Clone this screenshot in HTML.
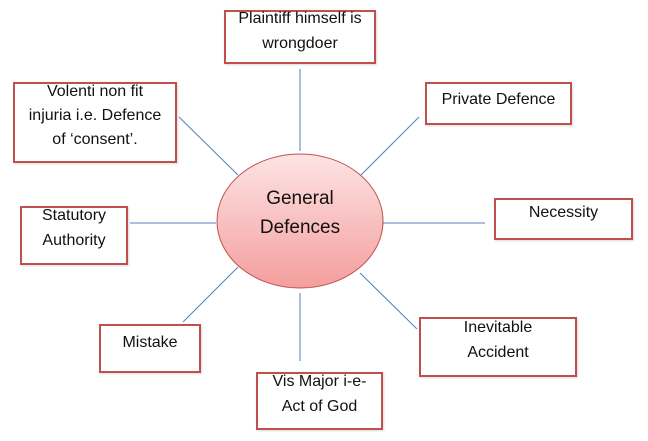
<!DOCTYPE html>
<html><head><meta charset="utf-8"><style>
body{margin:0;background:#fff;}
.b{position:absolute;border:2px solid #c0504d;box-sizing:border-box;background:#fff;box-shadow:1px 1px 2px rgba(0,0,0,.15);}
.t{position:absolute;font-family:"Liberation Sans",sans-serif;font-size:16px;color:#111;text-align:center;white-space:nowrap;line-height:25px;}
</style></head><body>
<div style="position:relative;width:648px;height:441px;overflow:hidden">
<svg width="648" height="441" style="position:absolute;left:0;top:0">
<defs><linearGradient id="g" x1="0" y1="0" x2="0" y2="1"><stop offset="0" stop-color="#fde4e4"/><stop offset="1" stop-color="#f49e9e"/></linearGradient></defs>
<g stroke="#4f81bd" stroke-width="1">
<line x1="300" y1="69" x2="300" y2="151"/>
<line x1="300" y1="293" x2="300" y2="361"/>
<line x1="130" y1="223" x2="216" y2="223"/>
<line x1="383" y1="223" x2="485" y2="223"/>
<line x1="179" y1="117" x2="238" y2="175"/>
<line x1="419" y1="117" x2="361" y2="175"/>
<line x1="183" y1="322" x2="238" y2="267"/>
<line x1="360" y1="273" x2="417" y2="329"/>
</g>
<ellipse cx="300" cy="221" rx="83" ry="67" fill="url(#g)" stroke="#c0504d" stroke-width="1"/>
</svg>
<div class="t" style="left:217px;top:184px;width:166px;font-size:19px;line-height:29px">General<br>Defences</div>
<div class="b" style="left:224px;top:10px;width:152px;height:54px"></div>
<div class="t" style="left:224px;top:6px;width:152px">Plaintiff himself is<br>wrongdoer</div>
<div class="b" style="left:13px;top:82px;width:164px;height:81px"></div>
<div class="t" style="left:13px;top:80px;width:164px;line-height:24px">Volenti non fit<br>injuria i.e. Defence<br>of ‘consent’.</div>
<div class="b" style="left:425px;top:82px;width:147px;height:43px"></div>
<div class="t" style="left:425px;top:87px;width:147px">Private Defence</div>
<div class="b" style="left:494px;top:198px;width:139px;height:42px"></div>
<div class="t" style="left:494px;top:200px;width:139px">Necessity</div>
<div class="b" style="left:20px;top:206px;width:108px;height:59px"></div>
<div class="t" style="left:20px;top:203px;width:108px">Statutory<br>Authority</div>
<div class="b" style="left:99px;top:324px;width:102px;height:49px"></div>
<div class="t" style="left:99px;top:330px;width:102px">Mistake</div>
<div class="b" style="left:419px;top:317px;width:158px;height:60px"></div>
<div class="t" style="left:419px;top:315px;width:158px">Inevitable<br>Accident</div>
<div class="b" style="left:256px;top:372px;width:127px;height:58px"></div>
<div class="t" style="left:256px;top:369px;width:127px">Vis Major i-e-<br>Act of God</div>
</div>
</body></html>
